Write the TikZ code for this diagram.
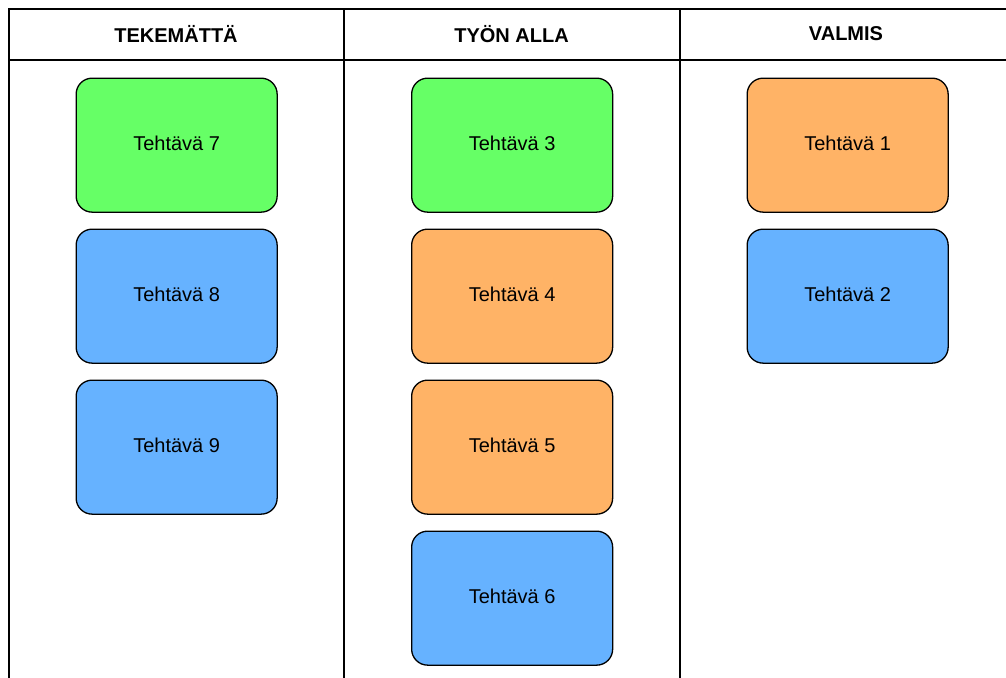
\documentclass[tikz,border=0pt]{standalone}
\usepackage{fontspec}
\setmainfont{Liberation Sans}
\definecolor{cgreen}{HTML}{66FF66}
\definecolor{cblue}{HTML}{66B2FF}
\definecolor{corange}{HTML}{FFB366}
\begin{document}
\begin{tikzpicture}[x=1pt,y=-1pt,
  task/.style={draw=black,line width=1.3pt,rounded corners=16pt,minimum width=201pt,minimum height=134pt,inner sep=0pt,text height=14.5pt,text depth=4.5pt,font=\fontsize{20}{22}\selectfont,anchor=north west},
  head/.style={font=\bfseries\fontsize{20}{22}\selectfont,inner sep=0pt,text height=14.5pt,text depth=4.5pt},
  frame/.style={draw=black,line width=2pt}]
\useasboundingbox (0,0) rectangle (1006,677);
\begin{scope}
\clip (0,0) rectangle (1006,677);
\draw[frame] (8.5,700) -- (8.5,9.5) -- (1020,9.5);
\draw[frame] (8.5,60.5) -- (1020,60.5);
\draw[frame] (344,9.5) -- (344,700);
\draw[frame] (679.5,9.5) -- (679.5,700);
\end{scope}
\node[head] (h1) at (176,37.5) {TEKEMÄTTÄ};
\node[head] (h2) at (511.5,37.5) {TYÖN ALLA};
\node[head] (h3) at (846,36) {VALMIS};
\node[task,fill=cgreen] (t7) at (75.5,77.5) {Tehtävä 7};
\node[task,fill=cblue] (t8) at (75.5,228.5) {Tehtävä 8};
\node[task,fill=cblue] (t9) at (75.5,379.5) {Tehtävä 9};
\node[task,fill=cgreen] (t3) at (411,77.5) {Tehtävä 3};
\node[task,fill=corange] (t4) at (411,228.5) {Tehtävä 4};
\node[task,fill=corange] (t5) at (411,379.5) {Tehtävä 5};
\node[task,fill=cblue] (t6) at (411,530.5) {Tehtävä 6};
\node[task,fill=corange] (t1) at (746.5,77.5) {Tehtävä 1};
\node[task,fill=cblue] (t2) at (746.5,228.5) {Tehtävä 2};
\end{tikzpicture}
\end{document}
